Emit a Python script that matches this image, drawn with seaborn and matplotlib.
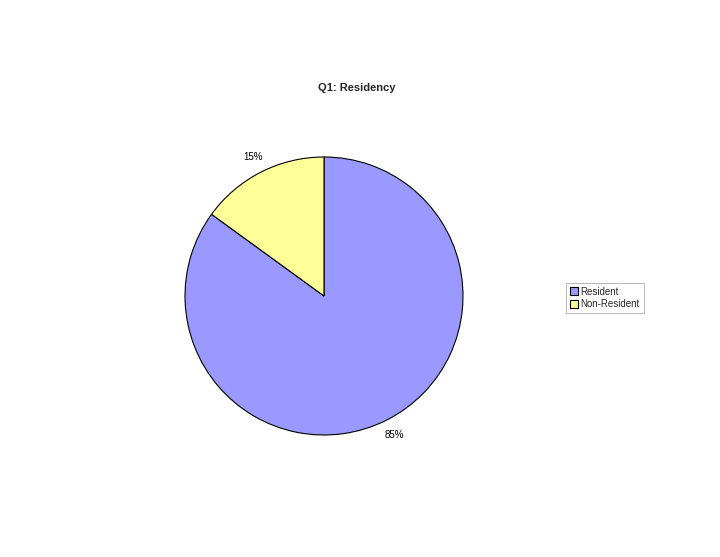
import matplotlib
matplotlib.use("Agg")
import matplotlib.pyplot as plt
import seaborn as sns

categories = ["Resident", "Non-Resident"]
shares = [85, 15]
pct_labels = ["85%", "15%"]
colors = ["#9999FF", "#FFFF99"]

sns.set_theme(style="white")
plt.rcParams['font.family'] = ['Liberation Sans', 'DejaVu Sans']

fig = plt.figure(figsize=(7.2, 5.57), dpi=100)
ax = fig.add_axes([324/720 - 139/720, (557 - 296 - 139)/557, 278/720, 278/557])

wedges, texts = ax.pie(shares, labels=pct_labels, colors=colors, startangle=90,
                       counterclock=False, labeldistance=1.12,
                       wedgeprops=dict(edgecolor="black", linewidth=0.8),
                       textprops=dict(fontsize=7, color="black"))
for t in texts:
    t.set_horizontalalignment("center")
    t.set_verticalalignment("center")
ax.set_xlim(-1, 1)
ax.set_ylim(-1, 1)
ax.set_aspect("equal")

fig.text(357/720, 1 - 88/557, "Q1: Residency", ha="center", va="center",
         fontsize=8, fontweight="bold")

leg = fig.legend(wedges, categories, loc="center left",
                 bbox_to_anchor=(561/720, 1 - 298/557), fontsize=7,
                 frameon=True, fancybox=False, edgecolor="#999999",
                 handlelength=0.8, handleheight=0.8, handletextpad=0.3,
                 borderpad=0.4, labelspacing=0.3)
leg.get_frame().set_linewidth(0.6)

fig.savefig("out.png", dpi=100)
